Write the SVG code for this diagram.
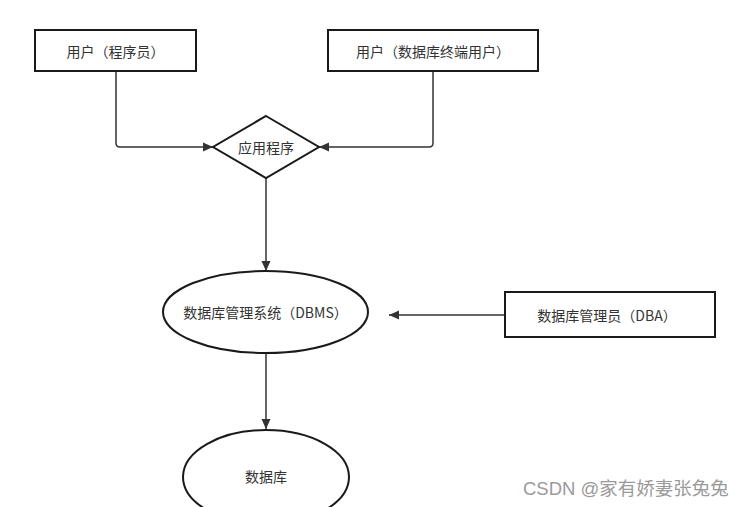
<svg xmlns="http://www.w3.org/2000/svg" width="751" height="507" viewBox="0 0 751 507">
<style>
.shape{fill:#fff;stroke:#1a1a1a;stroke-width:2}
.conn{fill:none;stroke:#333;stroke-width:1.5;stroke-linejoin:round}
.lbl{font-family:"Noto Sans CJK SC","Liberation Sans",sans-serif;font-size:14px;fill:#333;text-anchor:middle;dominant-baseline:central}
.wm{font-family:"Liberation Sans","Noto Sans CJK SC",sans-serif;font-size:18.5px;fill:#9a9a9a}
</style>
<defs>
<marker id="arr" viewBox="0 0 10 10" refX="10" refY="5" markerWidth="10" markerHeight="10" markerUnits="userSpaceOnUse" orient="auto">
<path d="M0,0.5 L10,5 L0,9.5 Z" fill="#333"/>
</marker>
</defs>
<rect width="751" height="507" fill="#fff"/>
<g id="connectors">
<path class="conn" d="M116,71 V143 Q116,147 120,147 H213" marker-end="url(#arr)"/>
<path class="conn" d="M433,71 V143 Q433,147 429,147 H319" marker-end="url(#arr)"/>
<path class="conn" d="M266,178 V271" marker-end="url(#arr)"/>
<path class="conn" d="M505,315 H389" marker-end="url(#arr)"/>
<path class="conn" d="M266,353 V429" marker-end="url(#arr)"/>
</g>
<g id="programmer">
<rect class="shape" x="35" y="30" width="161" height="41"/>
<text class="lbl" x="115.5" y="51">用户（程序员）</text>
</g>
<g id="enduser">
<rect class="shape" x="328" y="30" width="210" height="41"/>
<text class="lbl" x="433" y="51">用户（数据库终端用户）</text>
</g>
<g id="app">
<polygon class="shape" points="266,116 319,147 266,178 213,147"/>
<text class="lbl" x="266" y="147">应用程序</text>
</g>
<g id="dbms">
<ellipse class="shape" cx="265.5" cy="312" rx="102.5" ry="41"/>
<text class="lbl" x="265.5" y="312">数据库管理系统（DBMS）</text>
</g>
<g id="dba">
<rect class="shape" x="505" y="292" width="210" height="45"/>
<text class="lbl" x="607" y="315">数据库管理员（DBA）</text>
</g>
<g id="db">
<ellipse class="shape" cx="266" cy="477" rx="83" ry="47"/>
<text class="lbl" x="266" y="476">数据库</text>
</g>
<text class="wm" x="523" y="495">CSDN @家有娇妻张兔兔</text>
</svg>
